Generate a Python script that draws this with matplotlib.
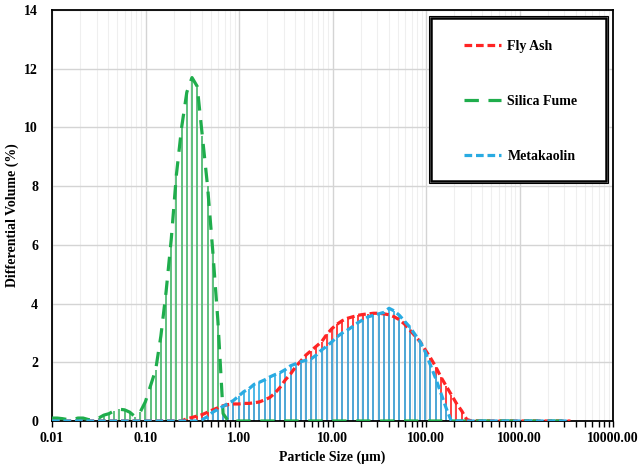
import matplotlib
matplotlib.use('Agg')
from matplotlib import pyplot as plt
from matplotlib.patches import Rectangle
from matplotlib.ticker import FixedLocator, FormatStrFormatter, LogLocator, NullFormatter

plt.rcParams['font.family'] = ['Liberation Serif', 'DejaVu Serif']
plt.rcParams['font.weight'] = 'bold'

# particle size classes (um), 0.01 - 3500
sizes = [0.0100, 0.01136, 0.01291, 0.01466, 0.01666, 0.01893, 0.02151, 0.02443, 0.02776, 0.03154,
         0.03583, 0.04071, 0.04625, 0.05255, 0.05971, 0.06784, 0.07708, 0.08758, 0.0995, 0.1131,
         0.1285, 0.146, 0.1659, 0.1885, 0.2141, 0.2433, 0.2764, 0.314, 0.3568, 0.4054,
         0.4606, 0.5233, 0.5945, 0.6755, 0.7675, 0.8721, 0.9906, 1.125, 1.279, 1.453,
         1.651, 1.875, 2.131, 2.421, 2.751, 3.125, 3.551, 4.034, 4.584, 5.208,
         5.917, 6.723, 7.638, 8.678, 9.86, 11.2, 12.73, 14.46, 16.43, 18.67,
         21.21, 24.1, 27.38, 31.11, 35.35, 40.16, 45.63, 51.84, 58.9, 66.92,
         76.04, 86.39, 98.15, 111.5, 126.7, 144.0, 163.5, 185.8, 211.1, 239.8,
         272.5, 309.6, 351.7, 399.6, 454.0, 515.9, 586.1, 665.9, 756.6, 859.6,
         976.7, 1110, 1261, 1432, 1628, 1849, 2101, 2387, 2712, 3081, 3500]

fly_ash = [0.0] * 26 + [
    0.08, 0.12, 0.17, 0.22, 0.3, 0.38, 0.45, 0.52, 0.56, 0.58,
    0.58, 0.6, 0.6, 0.62, 0.65, 0.72, 0.8, 0.95, 1.15, 1.4,
    1.6, 1.85, 2.05, 2.25, 2.4, 2.55, 2.7, 2.95, 3.15, 3.3,
    3.42, 3.5, 3.55, 3.6, 3.63, 3.65, 3.67, 3.67, 3.65, 3.62,
    3.55, 3.45, 3.3, 3.1, 2.9, 2.7, 2.42, 2.15, 1.85, 1.5,
    1.2, 0.9, 0.6, 0.35, 0.05] + [0.0] * 20

silica_fume = [
    0.1, 0.1, 0.08, 0.05, 0.05, 0.1, 0.1, 0.05, 0.03, 0.1,
    0.2, 0.25, 0.35, 0.4, 0.38, 0.3, 0.15, 0.3, 0.65, 1.2,
    1.75, 2.9, 4.4, 6.2, 8.4, 10.0, 11.2, 11.7, 11.4, 9.7,
    8.0, 5.8, 3.4, 0.25] + [0.0] * 67

metakaolin = [0.0] * 29 + [
    0.05, 0.15, 0.3, 0.4, 0.5, 0.6, 0.7, 0.85, 1.0, 1.1,
    1.25, 1.32, 1.4, 1.5, 1.58, 1.65, 1.75, 1.88, 1.95, 2.02,
    2.07, 2.12, 2.25, 2.42, 2.55, 2.7, 2.87, 3.0, 3.1, 3.22,
    3.35, 3.45, 3.55, 3.6, 3.65, 3.7, 3.84, 3.75, 3.6, 3.4,
    3.2, 2.95, 2.7, 2.35, 1.9, 1.45, 0.95, 0.45] + [0.0] * 24

red, green, blue = '#ff2424', '#1fad4c', '#29abe2'
red_stem, green_stem, blue_stem = '#ff3030', '#52bb74', '#3fb3e6'

fig = plt.figure(figsize=(6.42, 4.67), dpi=100)
ax = fig.add_axes([0.081, 0.0985, 0.874, 0.88])

# drop lines
ax.vlines(sizes, 0, silica_fume, color=green_stem, lw=1.3, zorder=2)
ax.vlines(sizes, 0, fly_ash, color=red_stem, lw=1.3, zorder=2)
ax.vlines(sizes, 0, metakaolin, color=blue_stem, lw=1.3, zorder=2)

ax.plot(sizes, fly_ash, color=red, lw=2.3, dashes=(2.4, 1.2), label='Fly Ash', zorder=4)
ax.plot(sizes, silica_fume, color=green, lw=2.3, dashes=(4.5, 3.0), label='Silica Fume', zorder=4)
ax.plot(sizes, metakaolin, color=blue, lw=2.3, dashes=(2.4, 1.2), label='Metakaolin', zorder=5)

ax.set_xscale('log')
ax.set_xlim(0.01, 10000)
ax.set_ylim(0, 14)
ax.set_xticks([0.01, 0.1, 1, 10, 100, 1000, 10000])
ax.xaxis.set_major_formatter(FormatStrFormatter('%.2f'))
ax.xaxis.set_minor_locator(LogLocator(base=10, subs=range(2, 10), numticks=20))
ax.xaxis.set_minor_formatter(NullFormatter())
ax.yaxis.set_major_locator(FixedLocator(range(0, 15, 2)))

ax.grid(which='major', color='#d4d4d4', lw=1.0, zorder=0)
ax.grid(which='minor', axis='x', color='#efefef', lw=0.8, zorder=0)
ax.set_axisbelow(True)

ax.tick_params(axis='x', which='both', direction='out', length=4, width=1, labelsize=10, pad=4)
ax.tick_params(axis='y', length=0, labelsize=10, pad=10)
for s in ax.spines.values():
    s.set_linewidth(1.3)
    s.set_color('black')

ax.set_xlabel('Particle Size (\u00b5m)', fontsize=10, fontweight='bold')
ax.set_ylabel('Differential Volume (%)', fontsize=10, fontweight='bold')

# legend box (double border)
ax.add_patch(Rectangle((0.672, 0.579), 0.319, 0.406, transform=ax.transAxes,
                       facecolor='white', edgecolor='black', lw=0.8, zorder=6))
ax.add_patch(Rectangle((0.676, 0.5835), 0.311, 0.397, transform=ax.transAxes,
                       facecolor='white', edgecolor='black', lw=1.8, zorder=6))
leg = ax.legend(loc='upper left', bbox_to_anchor=(0.735, 0.928), frameon=False,
                fontsize=10, handlelength=2.6, labelspacing=3.03, borderpad=0,
                handletextpad=0.5, borderaxespad=0)
leg.set_zorder(7)
for t in leg.get_texts():
    t.set_fontweight('bold')

plt.savefig('out.png', dpi=100)
